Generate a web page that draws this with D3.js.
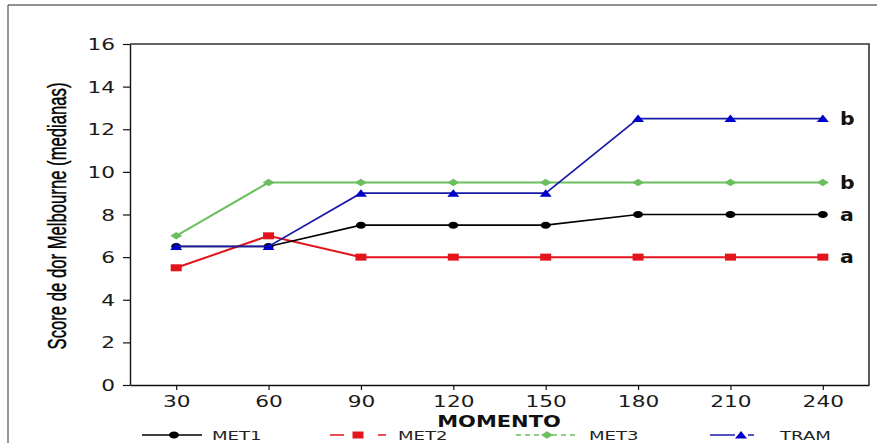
<!DOCTYPE html>
<html><head><meta charset="utf-8">
<script src="https://cdn.jsdelivr.net/npm/d3@7"></script>
<style>body{margin:0;background:#fff;} svg{display:block;}</style>
</head><body>
<svg id="c" width="877" height="443"></svg>
<script>
const momentos = [30, 60, 90, 120, 150, 180, 210, 240];
const met1 = [6.5, 6.5, 7.5, 7.5, 7.5, 8, 8, 8];
const met2 = [5.5, 7, 6, 6, 6, 6, 6, 6];
const met3 = [7, 9.5, 9.5, 9.5, 9.5, 9.5, 9.5, 9.5];
const tram = [6.5, 6.5, 9, 9, 9, 12.5, 12.5, 12.5];
const seriesNames = ["MET1", "MET2", "MET3", "TRAM"];
const endLabels = ["a", "a", "b", "b"];
const yTicks = [0, 2, 4, 6, 8, 10, 12, 14, 16];
const yTitle = "Score de dor Melbourne (medianas)";
const xTitle = "MOMENTO";

const SX = 1.4; // horizontal stretch of the reference image
const svg = d3.select("#c");
const L = 130, R = 869, T = 44, B = 385;
const x = d3.scaleLinear().domain([15, 255]).range([L, R]);
const y = d3.scaleLinear().domain([0, 16]).range([B, T]);

const styles = {
  MET1: {color: "#000000", stroke: "#000000", w: 1.6, shape: "circle"},
  MET2: {color: "#e3141c", stroke: "#e3141c", w: 2, shape: "square"},
  MET3: {color: "#6cbf5e", stroke: "#6cbf5e", w: 2, shape: "diamond"},
  TRAM: {color: "#0000cc", stroke: "#1a1aa8", w: 1.7, shape: "triangle"}
};
const data = {MET1: met1, MET2: met2, MET3: met3, TRAM: tram};

// outer frame
svg.append("line").attr("x1", 8).attr("x2", 877).attr("y1", 5).attr("y2", 5).attr("stroke", "#222").attr("stroke-width", 1.2);
svg.append("line").attr("x1", 8).attr("x2", 8).attr("y1", 5).attr("y2", 443).attr("stroke", "#555").attr("stroke-width", 1.2);

// plot border
svg.append("path").attr("d", `M${L},${T}H${R}V${B}`).attr("fill", "none").attr("stroke", "#333").attr("stroke-width", 1.6);

// axes
const gy = svg.append("g").attr("transform", `translate(${L},0)`)
  .call(d3.axisLeft(y).tickValues(yTicks).tickSize(7).tickSizeOuter(0).tickPadding(0));
gy.select(".domain").attr("stroke", "#111").attr("stroke-width", 1.4);
gy.selectAll(".tick line").attr("stroke", "#111").attr("stroke-width", 1.2);
gy.selectAll(".tick text").attr("x", 0).attr("dy", "0.36em")
  .attr("transform", "translate(-15,0) scale(" + SX + ",1)")
  .style("font-family", "DejaVu Sans").style("font-size", "15.5px").attr("fill", "#1a1a1a");

const gx = svg.append("g").attr("transform", `translate(0,${B})`)
  .call(d3.axisBottom(x).tickValues(momentos).tickSize(5).tickSizeOuter(0).tickPadding(0));
gx.select(".domain").attr("stroke", "#111").attr("stroke-width", 1.4);
gx.selectAll(".tick line").attr("stroke", "#111").attr("stroke-width", 1.2);
gx.selectAll(".tick text").attr("y", 0).attr("dy", 0)
  .attr("transform", "translate(0,22) scale(" + SX + ",1)")
  .style("font-family", "DejaVu Sans").style("font-size", "15.5px").attr("fill", "#1a1a1a");

// titles
svg.append("text").attr("transform", `translate(66,216) scale(${SX},1) rotate(-90)`)
  .attr("text-anchor", "middle").attr("textLength", 267).attr("lengthAdjust", "spacingAndGlyphs")
  .style("font-family", "Liberation Sans").style("font-size", "18px").style("font-weight", "500")
  .attr("fill", "#000").attr("stroke", "#000").attr("stroke-width", 0.3).text(yTitle);
svg.append("text").attr("transform", `translate(499,427) scale(${SX},1)`)
  .attr("text-anchor", "middle").style("font-family", "DejaVu Sans").style("font-weight", "bold")
  .style("font-size", "15px").attr("fill", "#111").text(xTitle);

function marker(g, shape, cx, cy, color) {
  if (shape === "circle") g.append("ellipse").attr("cx", cx).attr("cy", cy).attr("rx", 5).attr("ry", 3.5).attr("fill", color);
  else if (shape === "square") g.append("rect").attr("x", cx - 5.5).attr("y", cy - 3.5).attr("width", 11).attr("height", 7).attr("fill", color);
  else if (shape === "diamond") g.append("path").attr("d", `M${cx - 6},${cy}L${cx},${cy - 3.8}L${cx + 6},${cy}L${cx},${cy + 3.8}Z`).attr("fill", color);
  else if (shape === "triangle") g.append("path").attr("d", `M${cx - 6},${cy + 3.5}L${cx},${cy - 4}L${cx + 6},${cy + 3.5}Z`).attr("fill", color);
}

const line = d3.line().x((d, i) => x(momentos[i])).y(d => y(d));
const drawOrder = ["MET3", "MET2", "MET1", "TRAM"];
drawOrder.forEach(name => {
  const s = styles[name], vals = data[name];
  const g = svg.append("g");
  g.append("path").datum(vals).attr("d", line).attr("fill", "none").attr("stroke", s.stroke).attr("stroke-width", s.w);
  vals.forEach((v, i) => marker(g, s.shape, x(momentos[i]), y(v), s.color));
});

// end labels
seriesNames.forEach((name, k) => {
  const vals = data[name];
  const v = vals[vals.length - 1];
  svg.append("text").attr("transform", `translate(840,${y(v) + 6}) scale(1.2,1)`)
    .style("font-family", "DejaVu Sans").style("font-weight", "bold").style("font-size", "17px")
    .attr("fill", "#111").text(endLabels[k]);
});

// legend
const legPos = [{x0: 142, x1: 202, m: 174, t: 212}, {x0: 330, x1: 386, m: 358, t: 398}, {x0: 516, x1: 578, m: 547, t: 589}, {x0: 710, x1: 756, m: 741, t: 780}];
const legDash = {MET1: null, MET2: "14,6,0,28,8,0", MET3: "5,4", TRAM: "25,13,6,2"};
const ly = 435;
seriesNames.forEach((name, k) => {
  const s = styles[name], p = legPos[k];
  const g = svg.append("g");
  g.append("line").attr("x1", p.x0).attr("x2", p.x1).attr("y1", ly).attr("y2", ly)
    .attr("stroke", s.stroke).attr("stroke-width", 1.5).attr("stroke-dasharray", legDash[name]);
  marker(g, s.shape, p.m, ly, s.color);
  g.append("text").attr("transform", `translate(${p.t},${ly + 5}) scale(1.45,1)`)
    .style("font-family", "DejaVu Sans").style("font-size", "12.5px").attr("fill", "#222").text(name);
});
</script>
</body></html>
